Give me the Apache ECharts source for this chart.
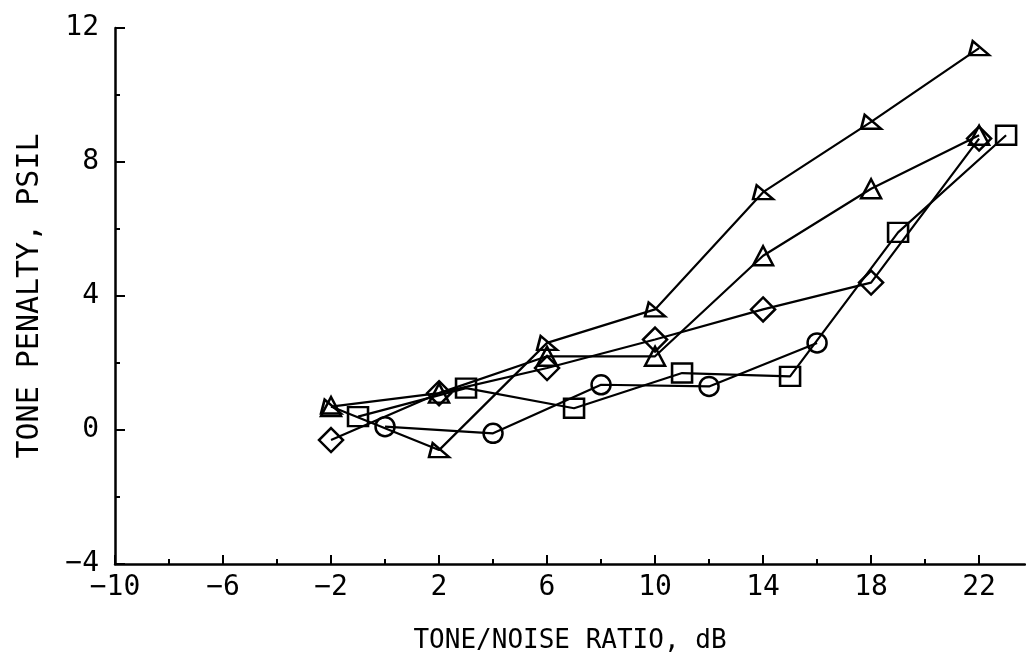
<!DOCTYPE html>
<html>
<head>
<meta charset="utf-8">
<script src="https://cdn.jsdelivr.net/npm/echarts@6/dist/echarts.min.js"></script>
<style>
html,body{margin:0;padding:0;background:#fff;}
#chart{width:1026px;height:666px;}
</style>
</head>
<body>
<div id="chart"></div>
<script>
// Data
var xTickLabels = [-10, -6, -2, 2, 6, 10, 14, 18, 22];
var xMinorTicks = [-8, -4, 0, 4, 8, 12, 16, 20];
var yTickLabels = [-4, 0, 4, 8, 12];

var rightTriX = [-2, 2, 6, 10, 14, 18, 22];
var rightTriY = [0.7, -0.6, 2.6, 3.6, 7.1, 9.2, 11.4];

var upTriX = [-2, 2, 6, 10, 14, 18, 22];
var upTriY = [0.7, 1.1, 2.2, 2.2, 5.2, 7.2, 8.8];

var diamondX = [-2, 2, 6, 10, 14, 18, 22];
var diamondY = [-0.3, 1.1, 1.85, 2.7, 3.6, 4.4, 8.7];

var squareX = [-1, 3, 7, 11, 15, 19, 23];
var squareY = [0.4, 1.25, 0.65, 1.7, 1.6, 5.9, 8.8];

var circleX = [0, 4, 8, 12, 16];
var circleY = [0.1, -0.1, 1.35, 1.3, 2.6];

function pairs(xs, ys) {
  return xs.map(function (x, i) { return [x, ys[i]]; });
}

var FONT = 'DejaVu Sans Mono';
var chart = echarts.init(document.getElementById('chart'), null, {renderer: 'canvas'});

function series(name, xs, ys, symbol, size) {
  return {
    name: name,
    type: 'line',
    data: pairs(xs, ys),
    symbol: symbol,
    symbolSize: size,
    showAllSymbol: true,
    symbolKeepAspect: true,
    lineStyle: {color: '#000', width: 2.2},
    itemStyle: {color: 'rgba(0,0,0,0)', borderColor: '#000', borderWidth: 2.5},
    emphasis: {disabled: true},
    animation: false
  };
}

function fmt(v) { return String(v).replace('-', '\u2212'); }

var option = {
  backgroundColor: '#fff',
  animation: false,
  grid: {left: 115, right: 1, top: 28, bottom: 102, containLabel: false},
  xAxis: [{
    type: 'value',
    min: -10, max: 23.7, interval: 4,
    name: 'TONE/NOISE RATIO, dB',
    nameLocation: 'middle',
    nameGap: 64,
    nameTextStyle: {fontFamily: FONT, fontSize: 26, color: '#000'},
    axisLine: {show: true, onZero: false, lineStyle: {color: '#000', width: 2.5}},
    axisTick: {show: true, inside: true, length: 9, lineStyle: {color: '#000', width: 2}, customValues: xTickLabels},
    axisLabel: {show: true, color: '#000', fontFamily: FONT, fontSize: 28, margin: 10, customValues: xTickLabels, formatter: fmt},
    splitLine: {show: false}
  }, {
    type: 'value',
    min: -10, max: 23.7,
    position: 'bottom',
    axisLine: {show: false, onZero: false},
    axisTick: {show: true, inside: true, length: 5, lineStyle: {color: '#000', width: 2}, customValues: xMinorTicks},
    axisLabel: {show: false},
    splitLine: {show: false}
  }],
  yAxis: {
    type: 'value',
    min: -4, max: 12, interval: 4,
    name: 'TONE PENALTY, PSIL',
    nameLocation: 'middle',
    nameGap: 85,
    nameRotate: 90,
    nameTextStyle: {fontFamily: FONT, fontSize: 30, color: '#000', verticalAlign: 'middle'},
    axisLine: {show: true, onZero: false, lineStyle: {color: '#000', width: 2.5}},
    axisTick: {show: true, inside: true, length: 10, lineStyle: {color: '#000', width: 2}},
    minorTick: {show: true, splitNumber: 2, length: 5, lineStyle: {color: '#000', width: 2}},
    axisLabel: {show: true, color: '#000', fontFamily: FONT, fontSize: 28, margin: 16, formatter: fmt},
    splitLine: {show: false}
  },
  series: [
    series('right-triangle', rightTriX, rightTriY, 'path://M2,0 L0,9 L11,9 Z', [20, 17]),
    series('triangle', upTriX, upTriY, 'triangle', [20, 19]),
    series('diamond', diamondX, diamondY, 'diamond', [24, 24]),
    series('square', squareX, squareY, 'rect', [20, 19]),
    series('circle', circleX, circleY, 'circle', [19, 19])
  ]
};
chart.setOption(option);
</script>
</body>
</html>
